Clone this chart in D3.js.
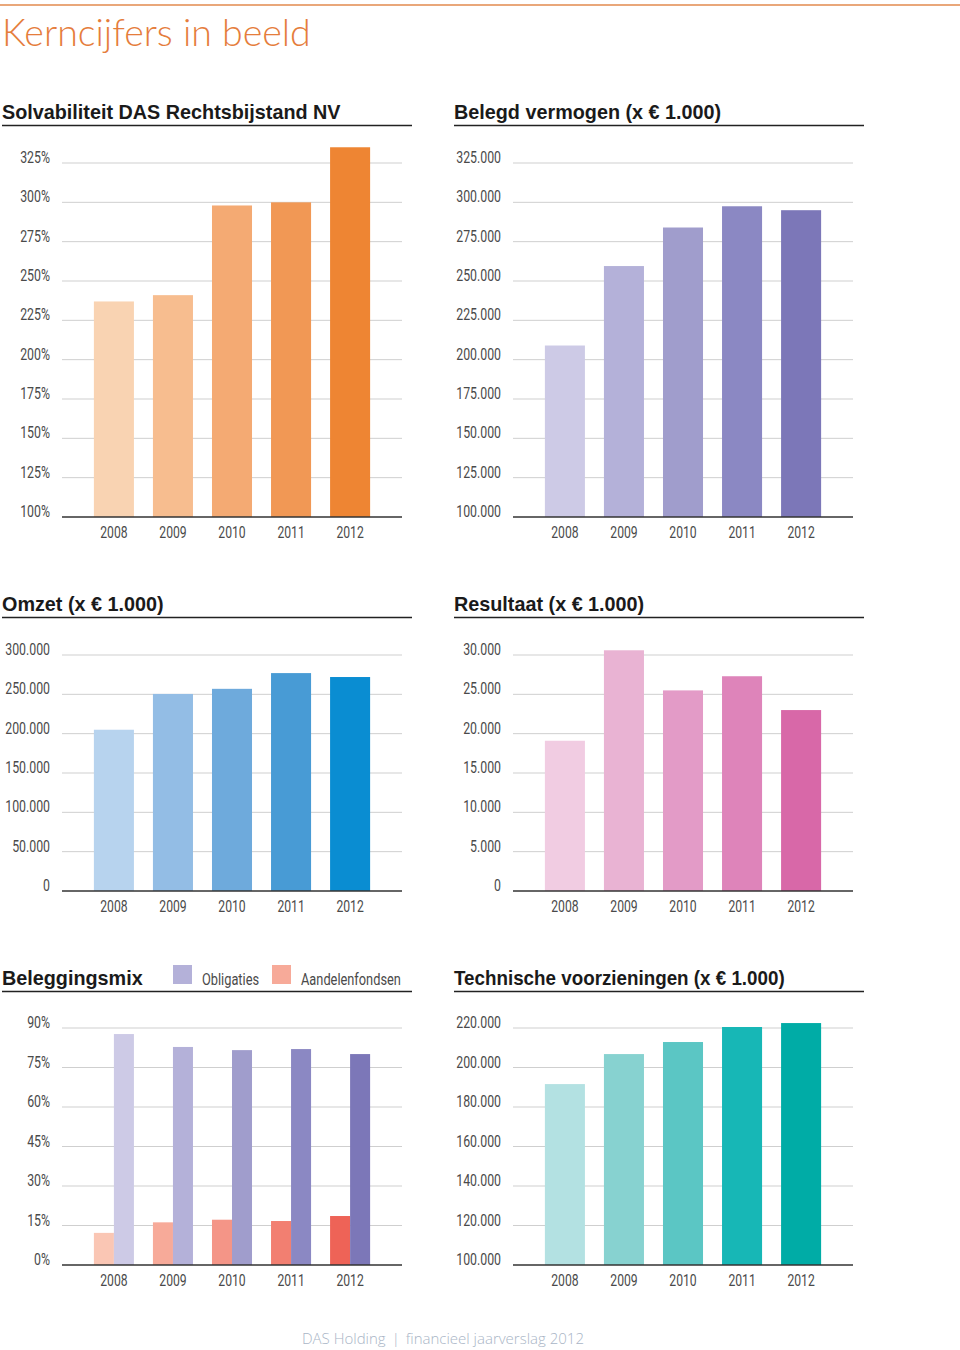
<!DOCTYPE html>
<html><head><meta charset="utf-8">
<script src="https://cdn.jsdelivr.net/npm/d3@7"></script>
<style>
body{margin:0;background:#fff;}
svg{display:block;}
.tick-label{font-family:Roboto,"Liberation Sans",sans-serif;font-size:16px;fill:#4a4a4a;}
.panel-title{font-family:"Liberation Sans","Arial",sans-serif;font-weight:bold;font-size:19.8px;fill:#1a1a1a;}
</style></head>
<body>
<script>
const years = ["2008","2009","2010","2011","2012"];
const solvabiliteit = [237, 241, 298, 300, 335];
const belegdVermogen = [209000, 259500, 284000, 297500, 295000];
const omzet = [205000, 250500, 257000, 277000, 272000];
const resultaat = [19100, 30600, 25500, 27300, 23000];
const obligaties = [87.7, 82.8, 81.6, 82.0, 80.1];
const aandelenfondsen = [12.2, 16.2, 17.2, 16.7, 18.6];
const technischeVoorzieningen = [191600, 206800, 212900, 220500, 222500];

const solvTicks = [100,125,150,175,200,225,250,275,300,325];
const belegdTicks = [100000,125000,150000,175000,200000,225000,250000,275000,300000,325000];
const omzetTicks = [0,50000,100000,150000,200000,250000,300000];
const resultaatTicks = [0,5000,10000,15000,20000,25000,30000];
const mixTicks = [0,15,30,45,60,75,90];
const techTicks = [100000,120000,140000,160000,180000,200000,220000];

const titles = ["Solvabiliteit DAS Rechtsbijstand NV","Belegd vermogen (x € 1.000)","Omzet (x € 1.000)","Resultaat (x € 1.000)","Beleggingsmix","Technische voorzieningen (x € 1.000)"];
const legendLabels = ["Obligaties","Aandelenfondsen"];

const orangeColors = ["#f9d3b2","#f7bd8f","#f4aa73","#f19855","#ee8533"];
const purpleColors = ["#cdcae6","#b4b1d9","#a09dcc","#8b88c3","#7c77b8"];
const blueColors = ["#b7d3ee","#93bde5","#6eaadc","#489bd5","#0a8dd2"];
const pinkColors = ["#f1cce2","#e9b3d3","#e39bc7","#de84ba","#d868a8"];
const salmonColors = ["#fac6b4","#f7aa99","#f49587","#f27f71","#ee6357"];
const tealColors = ["#b3e1e2","#87d2d0","#5bc6c4","#17b7b6","#00aca6"];

const nl = d3.formatLocale({decimal:",",thousands:".",grouping:[3],currency:["€ ",""]});
const fmtNum = nl.format(",");
const fmtPct = d => d + "%";

const W = 960, H = 1350;
const svg = d3.select("body").append("svg").attr("width",W).attr("height",H);

// condense text horizontally to mimic a condensed typeface
function condense(sel, f){
  sel.each(function(){
    const w = this.getComputedTextLength();
    d3.select(this).attr("textLength", w*f).attr("lengthAdjust","spacingAndGlyphs");
  });
}

// header
svg.append("line").attr("x1",0).attr("x2",W).attr("y1",5).attr("y2",5).attr("stroke","#e9a77a").attr("stroke-width",2);
svg.append("text").attr("x",2).attr("y",46).text("Kerncijfers in beeld")
  .style("font-family","Lato, 'Open Sans', sans-serif").style("font-weight","300").style("font-size","37.5px").style("fill","#e57d3c");

function panel(opt){
  const g = svg.append("g");
  const ox = opt.ox;
  const tt = g.append("text").attr("class","panel-title").attr("x",ox).attr("y",opt.titleY).text(opt.title);
  if(opt.titleCondense) condense(tt, opt.titleCondense);
  g.append("line").attr("x1",ox).attr("x2",ox+410).attr("y1",opt.titleY+6.5).attr("y2",opt.titleY+6.5).attr("stroke","#222").attr("stroke-width",1.5);
  const gx0 = ox+60+opt.shift, gx1 = ox+400+opt.shift;
  const x = d3.scaleBand().domain(years).range([gx0,gx1]).paddingInner(0.322).paddingOuter(0.54);
  const y = d3.scaleLinear().domain(opt.domain).range([opt.bottom,opt.top]);
  const ticks = opt.ticks;
  g.selectAll("line.grid").data(ticks.slice(1)).join("line").attr("class","grid")
    .attr("x1",gx0).attr("x2",gx1).attr("y1",d=>y(d)).attr("y2",d=>y(d)).attr("stroke","#cfcfcf").attr("stroke-width",1);
  const yl = g.selectAll("text.yl").data(ticks).join("text").attr("class","tick-label yl")
    .attr("x",gx0-12).attr("y",d=>y(d)).attr("text-anchor","end").text(opt.fmt);
  condense(yl, 0.77);
  if(opt.series2){
    const half = x.bandwidth()/2;
    g.selectAll("rect.b2").data(opt.series2).join("rect").attr("class","b2")
      .attr("x",(d,i)=>x(years[i])).attr("width",half)
      .attr("y",d=>y(d)).attr("height",d=>y(opt.domain[0])-y(d)).attr("fill",(d,i)=>opt.colors2[i]);
    g.selectAll("rect.b1").data(opt.series).join("rect").attr("class","b1")
      .attr("x",(d,i)=>x(years[i])+half).attr("width",half)
      .attr("y",d=>y(d)).attr("height",d=>y(opt.domain[0])-y(d)).attr("fill",(d,i)=>opt.colors[i]);
  } else {
    g.selectAll("rect.b1").data(opt.series).join("rect").attr("class","b1")
      .attr("x",(d,i)=>x(years[i])).attr("width",x.bandwidth())
      .attr("y",d=>y(d)).attr("height",d=>y(opt.domain[0])-y(d)).attr("fill",(d,i)=>opt.colors[i]);
  }
  const ax = g.append("g").attr("transform",`translate(0,${opt.bottom})`).call(d3.axisBottom(x).tickSize(0).tickPadding(10));
  ax.select(".domain").attr("stroke","#333").attr("stroke-width",1.5).attr("d",`M${gx0},0H${gx1}`);
  const xt = ax.selectAll("text").attr("class","tick-label").attr("font-family",null).attr("font-size",null).attr("fill",null);
  condense(xt, 0.76);
  return g;
}

panel({ox:2,shift:0,titleY:119,title:titles[0],top:163,bottom:517,domain:[100,325],ticks:solvTicks,fmt:fmtPct,series:solvabiliteit,colors:orangeColors});
panel({ox:454,shift:-1,titleY:119,title:titles[1],top:163,bottom:517,domain:[100000,325000],ticks:belegdTicks,fmt:fmtNum,series:belegdVermogen,colors:purpleColors});
panel({ox:2,shift:0,titleY:611,title:titles[2],top:655,bottom:891,domain:[0,300000],ticks:omzetTicks,fmt:fmtNum,series:omzet,colors:blueColors});
panel({ox:454,shift:-1,titleY:611,title:titles[3],top:655,bottom:891,domain:[0,30000],ticks:resultaatTicks,fmt:fmtNum,series:resultaat,colors:pinkColors});
panel({ox:2,shift:0,titleY:985,title:titles[4],top:1028,bottom:1265,domain:[0,90],ticks:mixTicks,fmt:fmtPct,series:obligaties,colors:purpleColors,series2:aandelenfondsen,colors2:salmonColors});
panel({ox:454,shift:-1,titleY:985,title:titles[5],titleCondense:0.95,top:1028,bottom:1265,domain:[100000,220000],ticks:techTicks,fmt:fmtNum,series:technischeVoorzieningen,colors:tealColors});

// legend
const leg = svg.append("g");
const legColors = [purpleColors[1], salmonColors[1]];
const legX = [173, 272];
legendLabels.forEach((l,i)=>{
  leg.append("rect").attr("x",legX[i]).attr("y",965).attr("width",19).attr("height",19).attr("fill",legColors[i]);
  const t = leg.append("text").attr("class","tick-label").attr("x",legX[i]+29).attr("y",985).text(l);
  condense(t, 0.8);
});

// footer
const ft = svg.append("text").attr("x",443).attr("y",1344).attr("text-anchor","middle")
  .style("font-family","'Open Sans', Lato, sans-serif").style("font-weight","300").style("font-size","15px").style("fill","#a9b5c6");
ft.append("tspan").text("DAS Holding");
ft.append("tspan").attr("dx",6).text("|");
ft.append("tspan").attr("dx",6).text("financieel jaarverslag 2012");
</script>
</body></html>
